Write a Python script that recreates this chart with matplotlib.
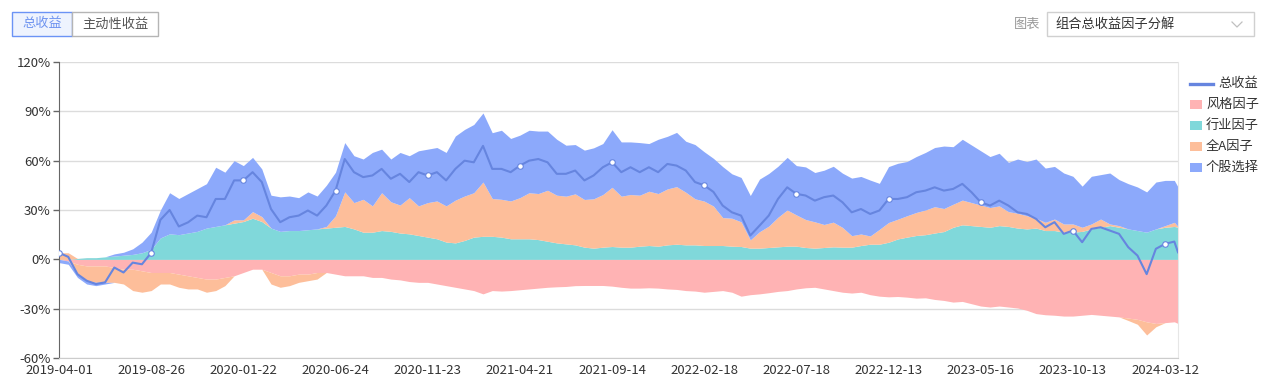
import numpy as np
import matplotlib.pyplot as plt
from matplotlib.patches import Rectangle
from matplotlib.lines import Line2D
from matplotlib.ticker import FuncFormatter

plt.rcParams['font.family'] = ['Noto Sans CJK SC', 'DejaVu Sans']

# tick labels on the category (trading day) axis, one every 100 days
tick_labels = ['2019-04-01', '2019-08-26', '2020-01-22', '2020-06-24', '2020-11-23',
               '2021-04-21', '2021-09-14', '2022-02-18', '2022-07-18', '2022-12-13',
               '2023-05-16', '2023-10-13', '2024-03-12']

# values in %, sampled every 10 trading days
style = [0, -1, -3, -4, -4, -4, -5, -6, -6, -7, -8, -8, -8, -9, -10, -11, -12, -12, -11, -10, -8, -6, -6, -8,
         -10, -10, -9, -9, -8, -8, -9, -10, -10, -10, -11, -11, -12, -12.5, -13.5, -14, -14, -15, -16, -17, -18, -19, -21, -19,
         -19.3, -19, -18.5, -18, -17.5, -17, -16.7, -16.5, -16, -15.9, -15.9, -15.9, -16.3, -17, -17.5, -17.5, -17.3, -17.5, -18, -18.3, -19, -19.3, -20, -19.5,
         -19, -20, -22.4, -21.5, -21, -20.3, -19.5, -19, -18, -17.3, -17, -18, -19, -20, -20.5, -20, -21.5, -22.4, -22.8, -22.6, -23, -23.6, -23.4, -24.4,
         -25, -26, -25.6, -27, -28.4, -29, -28.4, -29, -29.6, -31, -33, -33.7, -34, -34.5, -34.5, -34, -33.5, -34, -34.5, -35, -35.7, -36.5, -38, -39, -38.5, -38, -39]

industry = [0, 0, 0.5, 1, 1, 1.5, 2, 2.5, 3, 4, 6, 13, 15.5, 15, 16, 17, 19, 20, 21, 22, 23, 25, 23, 19,
            17, 17.5, 17.5, 18, 18.5, 19, 19.5, 20, 18.5, 16.5, 16.5, 17.5, 17, 16, 15.5, 14.5, 13.5, 12.5, 10.5, 10, 11.5, 13.5, 14, 14,
            13.5, 12.5, 12.5, 12.5, 12, 11, 10, 9.4, 8.8, 7.4, 6.8, 7.4, 7.8, 7.4, 7.4, 8, 8.4, 8, 8.8, 9.2, 8.8, 8.8, 8.4, 8.4,
            8.4, 8, 7.8, 6.8, 6.8, 7.2, 7.6, 8, 8, 7.2, 6.8, 7.2, 7.6, 7.4, 7.4, 8.4, 9.2, 9.2, 10.4, 12.4, 13.5, 14.5, 15, 16,
            16.9, 19.5, 21, 20.5, 20, 19.5, 20.5, 20, 19, 18.5, 19, 17.5, 17.5, 16.5, 16.5, 17, 18.5, 19.5, 20.5, 19.5, 18.5, 17.5, 16.5, 18.5, 19.5, 20, 19.5]

all_a = [4, 4, -6, -9, -10, -10, -9, -9, -13, -13, -11, -7, -7, -8, -8, -7, -8, -7, -5, 2, 1, 4, 3, -7,
         -7, -6, -5, -4, -4, 1, 7, 21, 16, 20, 16, 23, 18, 17, 22, 18, 21, 23, 22, 26, 27, 27, 33, 23,
         23, 23, 25, 28, 28, 31, 29, 29, 31, 29, 30, 32, 36, 31, 32, 31, 33, 32, 34, 35, 32, 28, 27, 24,
         17, 17, 15, 5, 10, 13, 18, 22, 19, 17, 16, 14, 15, 12, 7, 7, 5, 9, 12, 12, 13, 14, 15, 16,
         14, 14, 15, 14, 13, 12, 12, 9, 9, 8, 6, 5, 7, 5, 5, 2.5, 3, 5, 1, 1, -1.5, -3, -8, -2, 1, 2.5, 0.5]

stock = [-2, -2, -2, -2, -2, -1, 1.3, 1.8, 3.4, 6.4, 10.5, 17, 25, 22, 24, 26, 27, 36, 32, 36, 33, 33, 29, 20,
         21, 21, 20, 23, 20, 25, 26.5, 30, 28.5, 24.5, 32.5, 26.5, 26, 32, 25.5, 33.5, 32.5, 32.5, 32.5, 39, 40.5, 41.5, 42, 40,
         42, 38, 38, 38, 38, 36, 34, 31, 30, 30, 31, 31, 35, 33, 32, 32, 29, 33, 32, 33, 31, 33, 30, 29,
         31, 27, 27, 27, 32, 32, 31, 32, 30, 32, 30, 33, 34, 33, 35, 35, 34, 28, 34, 34, 33, 34, 35, 36,
         38, 35, 37, 35, 33, 31, 32, 30, 33, 33, 36, 33, 32, 31, 29, 25, 29, 27, 31, 28, 27.5, 26.5, 24.5, 28.5, 27.5, 25.5, 24]

total = [4, 1.5, -9, -13, -15, -14, -5, -8, -2, -3, 4, 24, 30, 20, 22.5, 26.6, 25.6, 36.7, 36.7, 48, 48, 53, 47, 30.6,
         22.6, 25.6, 26.6, 29.7, 26.6, 32.7, 41.8, 61, 53, 50, 51, 55, 49, 52, 47, 53, 51, 53, 48, 55, 60, 59, 69, 55,
         55, 53, 57, 60, 61, 59, 52, 52, 54, 48, 51, 56, 59, 53, 56, 53, 56, 53, 58, 57, 54, 47, 45, 41,
         32.7, 28.6, 26.6, 14.5, 20.5, 26.6, 36.7, 43.8, 39.8, 38.8, 35.7, 37.8, 38.8, 34.7, 28.6, 30.6, 27.6, 29.7, 36.7, 36.7, 37.8, 40.8, 41.8, 43.8,
         41.8, 42.8, 45.9, 40.8, 34.7, 32.7, 35.7, 32.7, 28.6, 27.6, 24.6, 19.5, 22.6, 15.5, 17.5, 10.4, 18.5, 19.5, 17.5, 15.5, 7.4, 2.3, -9, 6.4, 9.4, 10.8, 4.3]

c_line = '#6685DF'
c_style = '#FFB3B4'
c_ind = '#80D8DA'
c_alla = '#FDBE9A'
c_stock = '#8CA9FB'

W, H = 1267, 392
fig = plt.figure(figsize=(W / 100, H / 100), dpi=100)


def fx(x):
    return x / W


def fy(y):
    return 1 - y / H


ax = fig.add_axes([fx(59), fy(358), (1178 - 59) / W, (358 - 62) / H])

x = np.r_[np.arange(0, 1211, 10), 1214]
s = np.array(style, float)
ind = np.array(industry, float)
a = np.array(all_a, float)
st = np.array(stock, float)

# stack positives and negatives separately
neg1 = s
neg2 = neg1 + np.clip(a, None, 0)
neg3 = neg2 + np.clip(st, None, 0)
pos1 = ind
pos2 = pos1 + np.clip(a, 0, None)
pos3 = pos2 + np.clip(st, 0, None)

ax.fill_between(x, 0, neg1, color=c_style, lw=0)
ax.fill_between(x, neg1, neg2, color=c_alla, lw=0)
ax.fill_between(x, neg2, neg3, color=c_stock, lw=0)
ax.fill_between(x, 0, pos1, color=c_ind, lw=0)
ax.fill_between(x, pos1, pos2, color=c_alla, lw=0)
ax.fill_between(x, pos2, pos3, color=c_stock, lw=0)
ax.plot(x, total, color=c_line, lw=1.5, marker='o', markevery=10, ms=4,
        mfc='white', mec=c_line, mew=0.8, zorder=5)

ax.set_xlim(0, 1214)
ax.set_ylim(-60, 120)
ax.set_yticks(np.arange(-60, 121, 30))
ax.yaxis.set_major_formatter(FuncFormatter(lambda v, p: '%d%%' % v))
ax.set_xticks(np.arange(0, 1201, 100))
ax.set_xticklabels(tick_labels)
ax.tick_params(axis='x', length=0, pad=4, labelsize=9.5, colors='#333333')
ax.tick_params(axis='y', length=4, width=1, pad=2, labelsize=9.5, colors='#333333')
ax.tick_params(axis='y', color='#666666')
ax.grid(axis='y', color='#dcdcdc', lw=1)
ax.set_axisbelow(True)
ax.spines['top'].set_visible(False)
ax.spines['left'].set_color('#666666')
ax.spines['bottom'].set_color('#cccccc')
ax.spines['right'].set_color('#e6e6e6')

# top controls
fig.add_artist(Rectangle((fx(12), fy(36)), 60 / W, 24 / H, transform=fig.transFigure,
                         facecolor='#eef3fe', edgecolor='#6b93f5', lw=1))
fig.add_artist(Rectangle((fx(72), fy(36)), 86 / W, 24 / H, transform=fig.transFigure,
                         facecolor='white', edgecolor='#b5b5b5', lw=1))
fig.text(fx(42), fy(24), '总收益', ha='center', va='center', fontsize=9.5, color='#6d93f0')
fig.text(fx(115), fy(24), '主动性收益', ha='center', va='center', fontsize=9.5, color='#555555')

fig.text(fx(1027), fy(24), '图表', ha='center', va='center', fontsize=9.5, color='#999999')
fig.add_artist(Rectangle((fx(1047), fy(36)), 207 / W, 24 / H, transform=fig.transFigure,
                         facecolor='white', edgecolor='#d0d0d0', lw=1))
fig.text(fx(1055), fy(24), '组合总收益因子分解', ha='left', va='center', fontsize=9.5, color='#333333')
fig.add_artist(Line2D([fx(1232), fx(1237), fx(1242)], [fy(22), fy(27), fy(22)],
                      transform=fig.transFigure, color='#c0c0c0', lw=0.9))

# legend
fig.add_artist(Line2D([fx(1190), fx(1213)], [fy(84), fy(84)], transform=fig.transFigure,
                      color=c_line, lw=2.4))
fig.text(fx(1218), fy(84), '总收益', ha='left', va='center', fontsize=9.5, color='#333333')
legend_items = [('风格因子', c_style, 104), ('行业因子', c_ind, 125),
                ('全A因子', c_alla, 146), ('个股选择', c_stock, 167.5)]
for name, col, yc in legend_items:
    fig.add_artist(Rectangle((fx(1190), fy(yc + 4.5)), 12 / W, 9 / H, transform=fig.transFigure,
                             facecolor=col, edgecolor='none'))
    fig.text(fx(1206), fy(yc), name, ha='left', va='center', fontsize=9.5, color='#333333')

fig.savefig('out.png', dpi=100)
